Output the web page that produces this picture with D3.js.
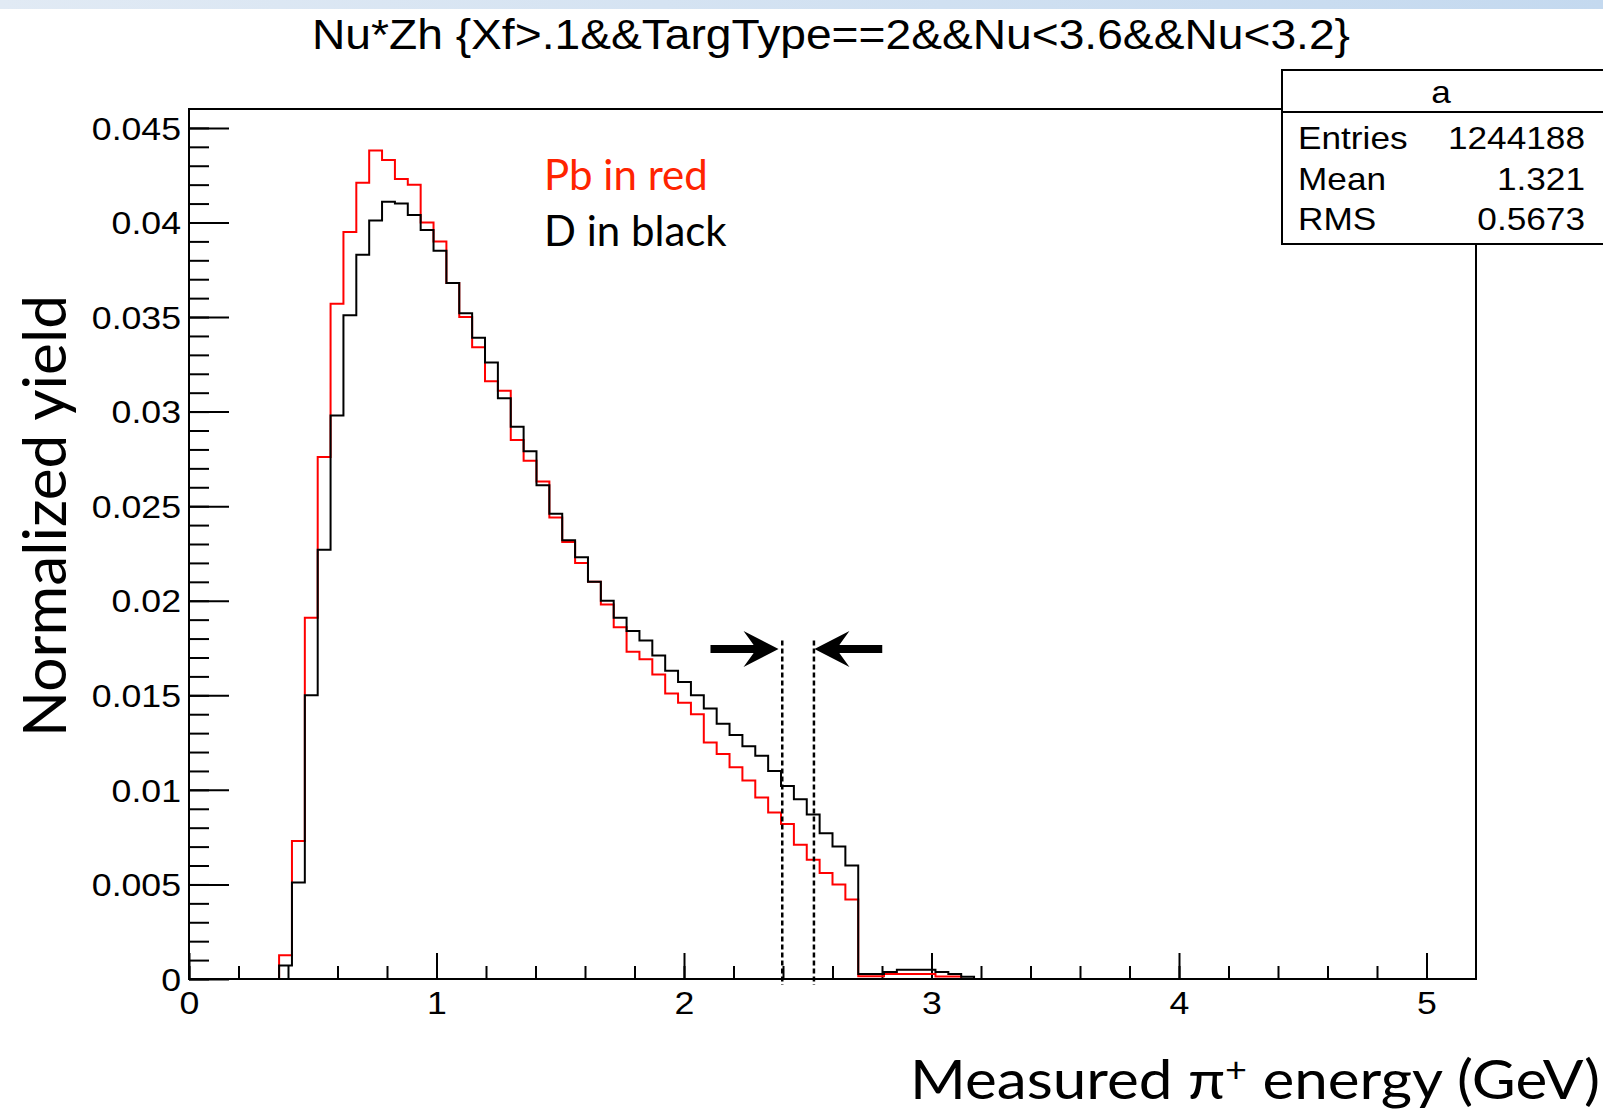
<!DOCTYPE html>
<html>
<head>
<meta charset="utf-8">
<script src="https://cdn.jsdelivr.net/npm/d3@7"></script>
<style>
  body { margin: 0; background: #fff; }
  svg { display: block; }
</style>
</head>
<body>
<div id="chart"></div>
<script>
// histogram definition (100 bins from 0 to 5.2 GeV)
const nBins = 100;
const xMin = 0, xMax = 5.2;
const firstBin = 7;

// Pb (red) and D (black) normalized yields, bins 7..60
const pbYield = [0.00125, 0.0073, 0.0191, 0.0276, 0.0357, 0.0395, 0.0421, 0.0438, 0.0433, 0.0423,
  0.0420, 0.0400, 0.0390, 0.0368, 0.0350, 0.0334, 0.0316, 0.0311, 0.0285, 0.0274,
  0.0263, 0.0244, 0.0231, 0.0220, 0.0210, 0.0198, 0.0186, 0.0173, 0.0169, 0.0161,
  0.0151, 0.0146, 0.0140, 0.0125, 0.0119, 0.0112, 0.0105, 0.0096, 0.0088, 0.0082,
  0.0071, 0.0063, 0.0056, 0.0050, 0.0042, 0.00015, 0.00015, 0.00027, 0.00027, 0.00027,
  0.00027, 0.00013, 0.00013, 0];
const dYield = [0.00072, 0.0051, 0.0150, 0.0227, 0.0298, 0.0351, 0.0383, 0.0401, 0.0411, 0.0410,
  0.0404, 0.0396, 0.0385, 0.0368, 0.0352, 0.0339, 0.0326, 0.0307, 0.0292, 0.0279,
  0.0261, 0.0246, 0.0232, 0.0223, 0.0210, 0.0200, 0.0191, 0.0184, 0.0179, 0.0171,
  0.0163, 0.0157, 0.0150, 0.0143, 0.0135, 0.0129, 0.0123, 0.0118, 0.0110, 0.0102,
  0.0095, 0.0087, 0.0077, 0.0070, 0.0060, 0.00026, 0.00026, 0.00037, 0.00049, 0.00049,
  0.00049, 0.00037, 0.00026, 0.00012];

// axis ticks
const xTicks = [0, 1, 2, 3, 4, 5];
const xTickLabels = ["0", "1", "2", "3", "4", "5"];
const yTicks = [0, 0.005, 0.01, 0.015, 0.02, 0.025, 0.03, 0.035, 0.04, 0.045];
const yTickLabels = ["0", "0.005", "0.01", "0.015", "0.02", "0.025", "0.03", "0.035", "0.04", "0.045"];
const yMax = 0.046;

// stats box
const statNames = ["Entries", "Mean", "RMS"];
const statValues = ["1244188", "1.321", "0.5673"];

// annotation (dotted markers and arrows), in data units
const markerX = [2.397, 2.525];
const markerTop = 0.0179;
const arrowY = 0.01745;
const arrowFrom = [2.107, 2.801];
const arrowTo = [2.382, 2.527];

const W = 1603, H = 1113;
const frame = { left: 189, right: 1476, top: 109, bottom: 979 };

const svg = d3.select("#chart").append("svg")
    .attr("width", W)
    .attr("height", H);

// light blue band at the top
const grad = svg.append("defs").append("linearGradient").attr("id", "band");
grad.append("stop").attr("offset", "0%").attr("stop-color", "#e1eaf4");
grad.append("stop").attr("offset", "100%").attr("stop-color", "#c4d9ef");
svg.append("rect").attr("x", 0).attr("y", 0).attr("width", W).attr("height", 9).attr("fill", "url(#band)");

const x = d3.scaleLinear().domain([xMin, xMax]).range([frame.left, frame.right]);
const y = d3.scaleLinear().domain([0, yMax]).range([frame.bottom, frame.top]);

const binW = (xMax - xMin) / nBins;

// stretch a text node horizontally
function stretch(sel, k) {
  sel.each(function() {
    const w = this.getComputedTextLength();
    d3.select(this).attr("textLength", w * k).attr("lengthAdjust", "spacingAndGlyphs");
  });
}

// minor ticks
svg.append("g")
    .attr("transform", "translate(" + frame.left + ",0)")
    .call(d3.axisLeft(y).tickValues(d3.range(0, 46).map(i => i * 0.001)).tickSize(-20).tickSizeOuter(0).tickFormat(""))
    .call(g => g.select(".domain").remove())
    .call(g => g.selectAll("line").attr("stroke-width", 2));
svg.append("g")
    .attr("transform", "translate(0," + frame.bottom + ")")
    .call(d3.axisBottom(x).tickValues(d3.range(0, 26).map(i => i * 0.2)).tickSize(-13).tickSizeOuter(0).tickFormat(""))
    .call(g => g.select(".domain").remove())
    .call(g => g.selectAll("line").attr("stroke-width", 2));

// major ticks + labels
const yAxis = svg.append("g")
    .attr("transform", "translate(" + frame.left + ",0)")
    .call(d3.axisLeft(y).tickValues(yTicks).tickSize(-40).tickSizeOuter(0).tickPadding(8)
      .tickFormat((d, i) => yTickLabels[i]))
    .call(g => g.select(".domain").remove())
    .call(g => g.selectAll("line").attr("stroke-width", 2));
yAxis.selectAll("text")
    .attr("font-family", "Liberation Sans, Arial, sans-serif")
    .attr("font-size", 31)
    .attr("fill", "#000")
    .attr("dy", "0.36em");
stretch(yAxis.selectAll("text"), 1.15);

const xAxis = svg.append("g")
    .attr("transform", "translate(0," + frame.bottom + ")")
    .call(d3.axisBottom(x).tickValues(xTicks).tickSize(-26).tickSizeOuter(0).tickPadding(13)
      .tickFormat((d, i) => xTickLabels[i]))
    .call(g => g.select(".domain").remove())
    .call(g => g.selectAll("line").attr("stroke-width", 2));
xAxis.selectAll("text")
    .attr("font-family", "Liberation Sans, Arial, sans-serif")
    .attr("font-size", 31)
    .attr("fill", "#000");
stretch(xAxis.selectAll("text"), 1.15);

// histogram outline
function histPath(values) {
  const p = d3.path();
  const x0 = xMin + firstBin * binW;
  p.moveTo(x(x0), y(0));
  values.forEach((v, i) => {
    const lo = xMin + (firstBin + i) * binW;
    p.lineTo(x(lo), y(v));
    p.lineTo(x(lo + binW), y(v));
  });
  p.lineTo(x(xMin + (firstBin + values.length) * binW), y(0));
  return p.toString();
}

svg.append("path")
    .attr("d", histPath(pbYield))
    .attr("fill", "none")
    .attr("stroke", "#ff0000")
    .attr("stroke-width", 2);
svg.append("path")
    .attr("d", histPath(dYield))
    .attr("fill", "none")
    .attr("stroke", "#000")
    .attr("stroke-width", 2);

// frame
svg.append("rect")
    .attr("x", frame.left).attr("y", frame.top)
    .attr("width", frame.right - frame.left).attr("height", frame.bottom - frame.top)
    .attr("fill", "none").attr("stroke", "#000").attr("stroke-width", 2);

// dotted markers
svg.selectAll(".marker")
  .data(markerX)
  .enter().append("line")
    .attr("x1", d => x(d)).attr("x2", d => x(d))
    .attr("y1", y(markerTop)).attr("y2", frame.bottom + 6)
    .attr("stroke", "#000").attr("stroke-width", 2.5)
    .attr("stroke-dasharray", "5,3");

// arrows
arrowFrom.forEach((a, i) => {
  const x1 = x(a), x2 = x(arrowTo[i]), yy = y(arrowY);
  const dir = x2 > x1 ? 1 : -1;
  svg.append("line")
      .attr("x1", x1).attr("x2", x2 - dir * 20)
      .attr("y1", yy).attr("y2", yy)
      .attr("stroke", "#000").attr("stroke-width", 8);
  svg.append("path")
      .attr("d", "M" + x2 + "," + yy +
        "L" + (x2 - dir * 35) + "," + (yy - 18) +
        "L" + (x2 - dir * 22) + "," + yy +
        "L" + (x2 - dir * 35) + "," + (yy + 18) + "Z")
      .attr("fill", "#000");
});

// title
svg.append("text")
    .attr("x", 831).attr("y", 49)
    .attr("text-anchor", "middle")
    .attr("font-family", "Liberation Sans, Arial, sans-serif")
    .attr("font-size", 43)
    .attr("textLength", 1038)
    .attr("lengthAdjust", "spacingAndGlyphs")
    .text("Nu*Zh {Xf>.1&&TargType==2&&Nu<3.6&&Nu<3.2}");

// stats box
const box = svg.append("g");
box.append("rect")
    .attr("x", 1282).attr("y", 70).attr("width", 340).attr("height", 174)
    .attr("fill", "#fff").attr("stroke", "#000").attr("stroke-width", 2);
box.append("line")
    .attr("x1", 1282).attr("x2", 1610).attr("y1", 112).attr("y2", 112)
    .attr("stroke", "#000").attr("stroke-width", 2);
box.append("text")
    .attr("x", 1441).attr("y", 103)
    .attr("text-anchor", "middle")
    .attr("font-family", "Liberation Sans, Arial, sans-serif")
    .attr("font-size", 32)
    .text("a");
const statY = [149, 190, 230];
box.selectAll(".sname").data(statNames).enter().append("text")
    .attr("x", 1298).attr("y", (d, i) => statY[i])
    .attr("font-family", "Liberation Sans, Arial, sans-serif")
    .attr("font-size", 32)
    .text(d => d);
box.selectAll(".sval").data(statValues).enter().append("text")
    .attr("x", 1585).attr("y", (d, i) => statY[i])
    .attr("text-anchor", "end")
    .attr("font-family", "Liberation Sans, Arial, sans-serif")
    .attr("font-size", 32)
    .text(d => d);
stretch(box.selectAll("text"), 1.1);

// legend text
svg.append("text")
    .attr("x", 544).attr("y", 190)
    .attr("font-family", "Lato, 'Open Sans', sans-serif")
    .attr("font-size", 42)
    .attr("fill", "#ff2400")
    .text("Pb in red");
svg.append("text")
    .attr("x", 544).attr("y", 246)
    .attr("font-family", "Lato, 'Open Sans', sans-serif")
    .attr("font-size", 42)
    .attr("fill", "#000")
    .text("D in black");

// axis titles
svg.append("text")
    .attr("transform", "translate(66,516) rotate(-90)")
    .attr("text-anchor", "middle")
    .attr("font-family", "Lato, 'Open Sans', sans-serif")
    .attr("font-size", 60)
    .attr("textLength", 442)
    .attr("lengthAdjust", "spacingAndGlyphs")
    .text("Normalized yield");

const xt = svg.append("text")
    .attr("x", 1600).attr("y", 1099)
    .attr("text-anchor", "end")
    .attr("font-family", "Lato, 'Open Sans', sans-serif")
    .attr("font-size", 54)
    .attr("textLength", 690)
    .attr("lengthAdjust", "spacingAndGlyphs");
xt.append("tspan").text("Measured \u03c0");
xt.append("tspan").attr("font-size", 34).attr("baseline-shift", "50%").text("+");
xt.append("tspan").text(" energy (GeV)");
</script>
</body>
</html>
